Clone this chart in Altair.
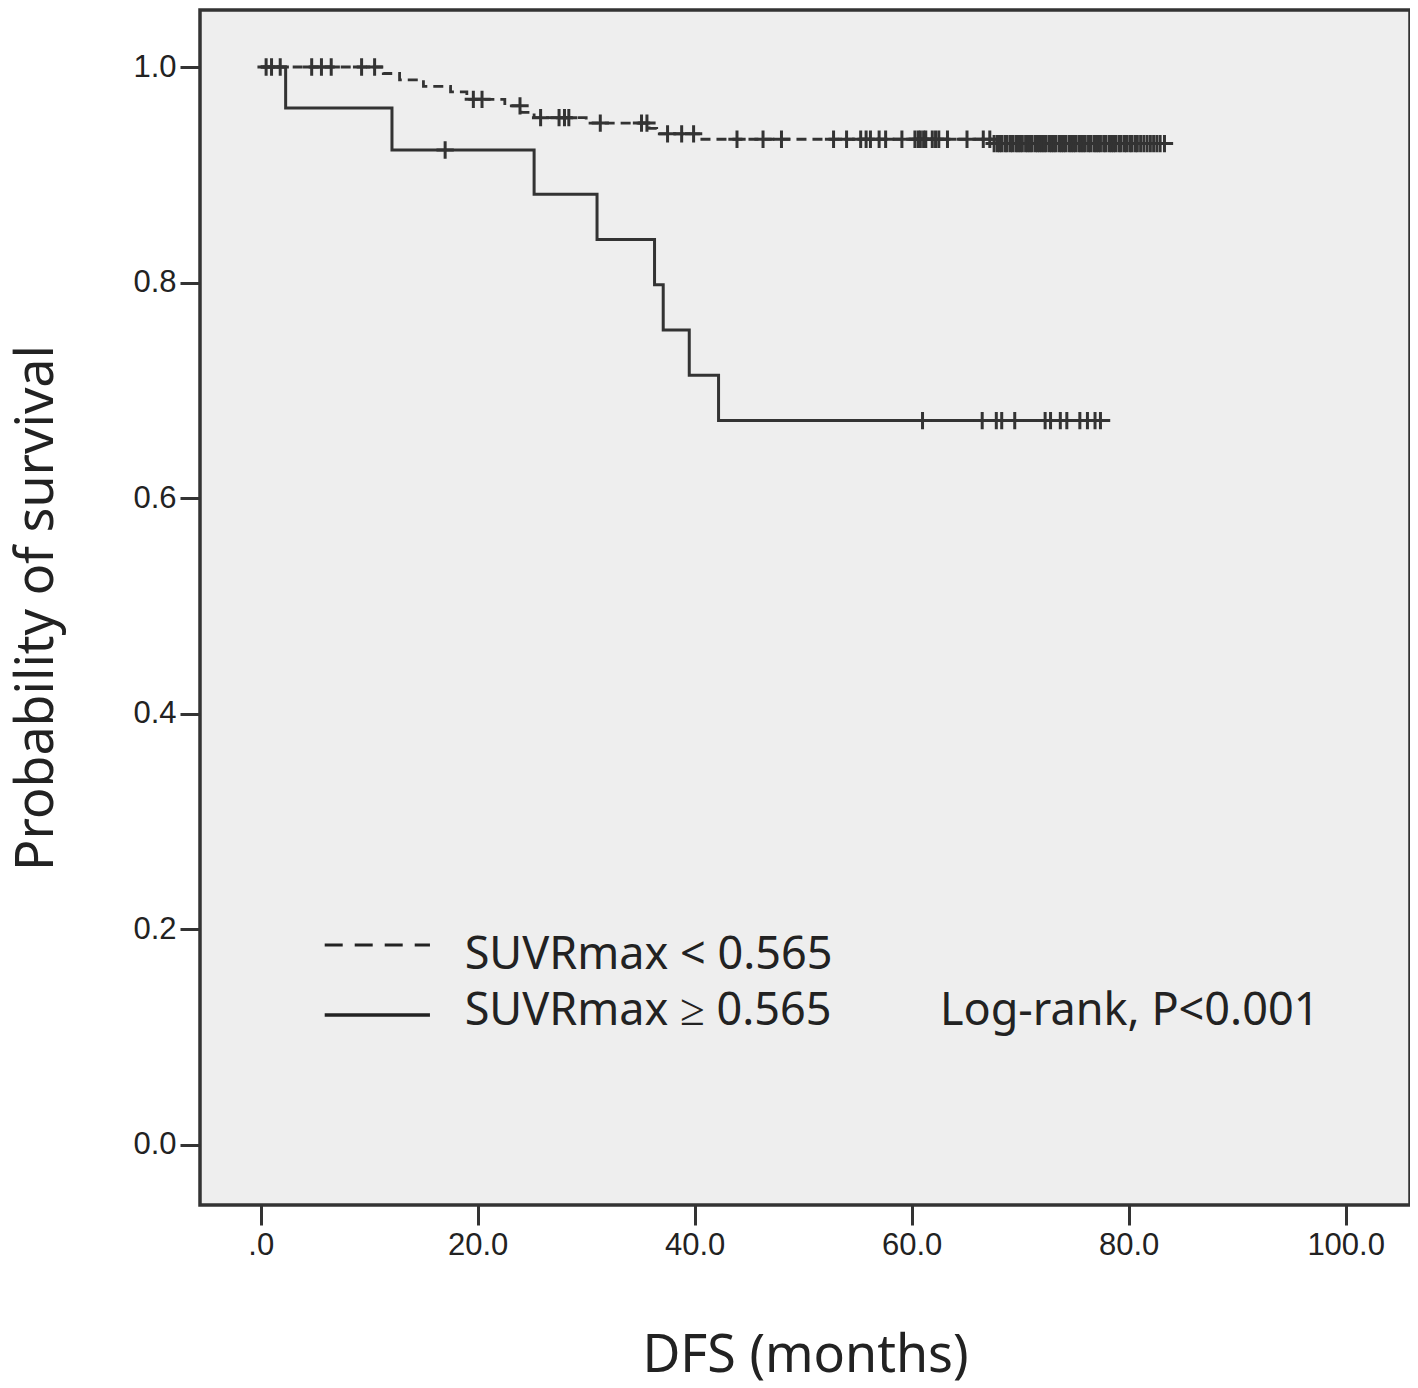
import altair as alt
import pandas as pd

# ---- data ----
low_time = [0, 11.3, 12.8, 15.0, 17.5, 19.0, 22.5, 24.0, 25.2, 30.0, 35.8, 36.5, 40.5, 67.6, 84.0]
low_surv = [1.0, 0.994, 0.988, 0.982, 0.977, 0.970, 0.964, 0.958, 0.953, 0.948, 0.943, 0.938, 0.933, 0.929, 0.929]

high_time = [0, 2.3, 12.1, 25.2, 31.0, 36.3, 37.1, 39.5, 42.2, 78.3]
high_surv = [1.0, 0.962, 0.923, 0.882, 0.840, 0.798, 0.756, 0.714, 0.672, 0.672]

low_censor = [0.5, 1.0, 1.8, 4.7, 5.6, 6.5, 9.3, 10.5, 19.6, 20.4, 23.9, 25.8, 27.5, 28.0, 28.4,
              31.3, 35.1, 35.6, 37.5, 38.8, 39.9, 43.9, 46.3, 48.0, 52.8, 54.0, 55.3, 55.8, 56.2,
              57.0, 57.6, 59.1, 60.3, 60.6, 60.8, 61.1, 61.3, 61.9, 62.2, 62.5, 63.3, 65.1, 66.6,
              67.2, 67.6, 67.9, 68.1, 68.3, 68.6, 68.8, 69.1, 69.3, 69.6, 69.8, 70.0, 70.2, 70.5,
              70.7, 70.9, 71.1, 71.4, 71.6, 71.8, 72.0, 72.2, 72.4, 72.7, 72.9, 73.1, 73.3, 73.6,
              73.8, 74.0, 74.2, 74.5, 74.7, 74.9, 75.1, 75.4, 75.6, 75.8, 76.0, 76.3, 76.5, 76.8,
              77.0, 77.2, 77.4, 77.7, 77.9, 78.2, 78.4, 78.6, 78.8, 79.1, 79.3, 79.6, 79.8, 80.1,
              80.3, 80.6, 80.8, 81.1, 81.4, 81.7, 82.0, 82.3, 82.6, 82.9, 83.3]
high_censor = [17.0, 61.0, 66.5, 67.8, 68.3, 69.5, 72.3, 72.8, 73.7, 74.3, 75.5, 76.2, 76.9, 77.4]

x_ticks = [0, 20, 40, 60, 80, 100]
y_ticks = [0.0, 0.2, 0.4, 0.6, 0.8, 1.0]

legend_labels = ["SUVRmax < 0.565", "SUVRmax \u2265 0.565"]
annotation = "Log-rank, P<0.001"


def surv_at(times, survs, t):
    s = survs[0]
    for tt, ss in zip(times, survs):
        if tt <= t:
            s = ss
    return s


low_df = pd.DataFrame({"t": low_time, "s": low_surv})
high_df = pd.DataFrame({"t": high_time, "s": high_surv})
cens_df = pd.DataFrame({
    "t": low_censor + high_censor,
    "s": [surv_at(low_time, low_surv, c) for c in low_censor]
       + [surv_at(high_time, high_surv, c) for c in high_censor],
})

leg_lines = pd.DataFrame({"t": [5.9, 5.9], "t2": [15.6, 15.6], "s": [0.1855, 0.1206],
                          "grp": ["low", "high"]})
leg_text = pd.DataFrame({"t": [18.8, 18.8, 62.6], "s": [0.1630, 0.1113, 0.1113],
                         "label": legend_labels + [annotation]})

xs = alt.Scale(domain=[-5.594, 105.93], nice=False, zero=False)
ys = alt.Scale(domain=[-0.0557, 1.0529], nice=False, zero=False)

xaxis = alt.Axis(title="DFS (months)", values=x_ticks, grid=False, domain=False,
                 labelExpr="datum.value == 0 ? '.0' : format(datum.value, '.1f')",
                 tickSize=20, tickWidth=3, tickColor="#333", labelPadding=5,
                 labelFontSize=31, labelFont="Liberation Sans", labelColor="#222",
                 titleFontSize=52, titleFont="Noto Sans", titleFontWeight="normal",
                 titleColor="#222", titlePadding=70)
yaxis = alt.Axis(title="Probability of survival", values=y_ticks, grid=False, domain=False,
                 format=".1f", tickSize=20, tickWidth=3, tickColor="#333", labelPadding=4,
                 labelFontSize=31, labelFont="Liberation Sans", labelColor="#222",
                 titleFontSize=52, titleFont="Noto Sans", titleFontWeight="normal",
                 titleColor="#222", titlePadding=69)

X = lambda: alt.X("t:Q", scale=xs, axis=xaxis)
Y = lambda: alt.Y("s:Q", scale=ys, axis=yaxis)

low_line = alt.Chart(low_df).mark_line(interpolate="step-after", color="#333",
                                         strokeWidth=2.8, strokeDash=[10, 6]).encode(x=X(), y=Y())
high_line = alt.Chart(high_df).mark_line(interpolate="step-after", color="#333",
                                           strokeWidth=3).encode(x=X(), y=Y())
cens = alt.Chart(cens_df).mark_point(shape="M-1,0L1,0M0,-1L0,1", filled=False, size=300,
                                     strokeWidth=3, color="#333", opacity=1).encode(x=X(), y=Y())

leg_dash = alt.Chart(leg_lines[leg_lines.grp == "low"]).mark_rule(
    color="#222", strokeWidth=3, strokeDash=[18, 12]).encode(x=X(), x2="t2:Q", y=Y())
leg_solid = alt.Chart(leg_lines[leg_lines.grp == "high"]).mark_rule(
    color="#222", strokeWidth=3.5).encode(x=X(), x2="t2:Q", y=Y())
texts = alt.Chart(leg_text).mark_text(align="left", baseline="alphabetic", font="Noto Sans",
                                      fontSize=45, color="#222").encode(x=X(), y=Y(), text="label:N")

chart = alt.layer(low_line, high_line, cens, leg_dash, leg_solid, texts).properties(
    width=1210, height=1195,
    autosize=alt.AutoSizeParams(type="none"),
    padding={"left": 192, "top": 2, "right": 0, "bottom": 180},
).configure_view(stroke="#333", strokeWidth=3.5, fill="#eeeeee")

chart.save("out.html", embed_options={"renderer": "svg", "actions": False})
